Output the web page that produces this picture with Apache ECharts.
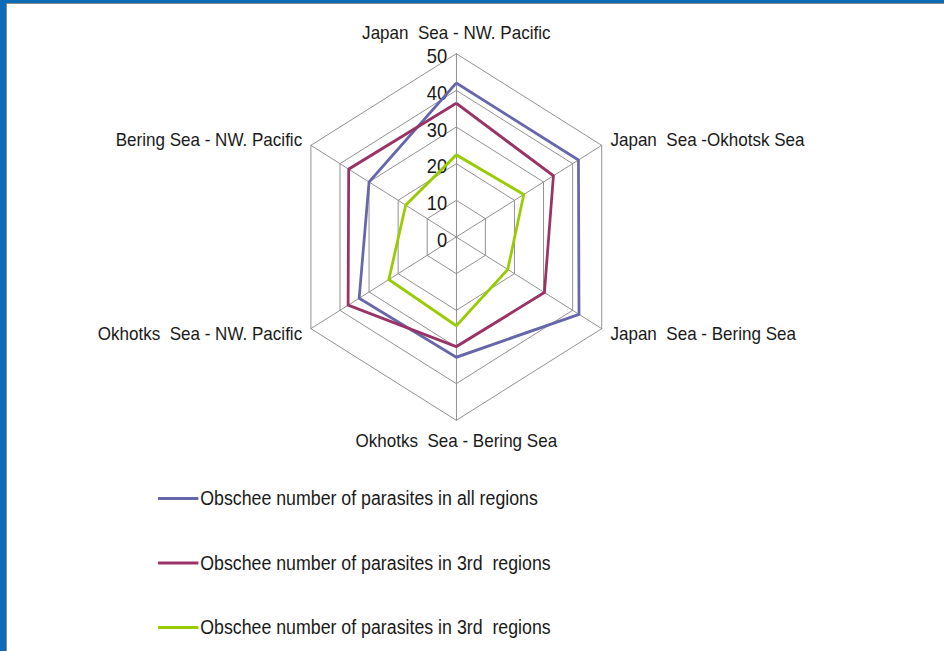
<!DOCTYPE html>
<html>
<head>
<meta charset="utf-8">
<script src="https://cdn.jsdelivr.net/npm/echarts@6/dist/echarts.min.js"></script>
<style>
  html, body { margin: 0; padding: 0; background: #fff; }
  #wrap { position: relative; width: 944px; height: 651px; overflow: hidden; background: #fff; }
  #topbar { position: absolute; left: 0; top: 0; width: 944px; height: 3px; background: #0b6bb5; }
  #topline { position: absolute; left: 6px; top: 3px; width: 938px; height: 1px; background: #8a8a8a; }
  #leftbar { position: absolute; left: 0; top: 0; width: 6px; height: 651px; background: #0b6bb5; }
  #leftline { position: absolute; left: 6px; top: 3px; width: 1px; height: 648px; background: #8a8a8a; }
  #chart { position: absolute; left: 0; top: 0; width: 944px; height: 651px;
           transform: scaleX(0.916); transform-origin: 456.3px 0; }
</style>
</head>
<body>
<div id="wrap">
  <div id="chart"></div>
  <div id="topbar"></div>
  <div id="topline"></div>
  <div id="leftbar"></div>
  <div id="leftline"></div>
</div>
<script>
// Indicators listed counter-clockwise starting at the top
const categories = [
  'Japan  Sea - NW. Pacific',
  'Bering Sea - NW. Pacific',
  'Okhotks  Sea - NW. Pacific',
  'Okhotks  Sea - Bering Sea',
  'Japan  Sea - Bering Sea',
  'Japan  Sea -Okhotsk Sea'
];
const seriesNames = [
  'Obschee number of parasites in all regions',
  'Obschee number of parasites in 3rd  regions',
  'Obschee number of parasites in 3rd  regions '
];
const allRegions = [42, 30, 33.4, 32.8, 42.2, 42];
const thirdRegionsA = [36.5, 37, 37.2, 29.9, 30.3, 33.4];
const thirdRegionsB = [22.4, 17.4, 23.2, 24.2, 17.7, 23.2];
const tickValues = [0, 10, 20, 30, 40, 50];
const seriesColors = ['#6666aa', '#993366', '#99cc00'];

const FONT = 'Liberation Sans';
const cx = 456.3, cy = 237, R = 183.3;

const chart = echarts.init(document.getElementById('chart'), null, { renderer: 'svg' });
const values = [allRegions, thirdRegionsA, thirdRegionsB];

chart.setOption({
  animation: false,
  backgroundColor: 'transparent',
  textStyle: { fontFamily: FONT },
  radar: {
    center: [cx, cy],
    radius: R,
    startAngle: 90,
    shape: 'polygon',
    splitNumber: 5,
    indicator: categories.map(n => ({ name: n, min: tickValues[0], max: tickValues[tickValues.length - 1] })),
    nameGap: 11,
    axisName: { color: '#1a1a1a', fontSize: 18.6, fontFamily: FONT },
    axisLine: { lineStyle: { color: '#8c8c8c', width: 1 } },
    splitLine: { lineStyle: { color: '#8c8c8c', width: 1 } },
    splitArea: { show: false },
    axisLabel: { show: false },
    axisTick: { show: false }
  },
  grid: { left: cx, top: cy - R + 3, height: R, width: 10 },
  xAxis: { type: 'value', show: false },
  yAxis: {
    type: 'value', min: 0, max: 50, interval: 10,
    axisLine: { show: false }, axisTick: { show: false }, splitLine: { show: false },
    axisLabel: { color: '#1a1a1a', fontSize: 20, fontFamily: FONT, margin: 10 }
  },
  legend: {
    orient: 'vertical',
    left: 130.7,
    top: 489,
    padding: 0,
    itemGap: 45.5,
    itemWidth: 44,
    itemHeight: 3,
    icon: 'rect',
    textStyle: { color: '#1a1a1a', fontSize: 19.4, fontFamily: FONT, padding: [0, 0, 0, -3] },
    data: seriesNames
  },
  series: [{
    type: 'radar',
    symbol: 'none',
    data: values.map((v, i) => ({
      name: seriesNames[i],
      value: v,
      lineStyle: { color: seriesColors[i], width: 3 },
      itemStyle: { color: seriesColors[i] }
    }))
  }]
});
</script>
</body>
</html>
